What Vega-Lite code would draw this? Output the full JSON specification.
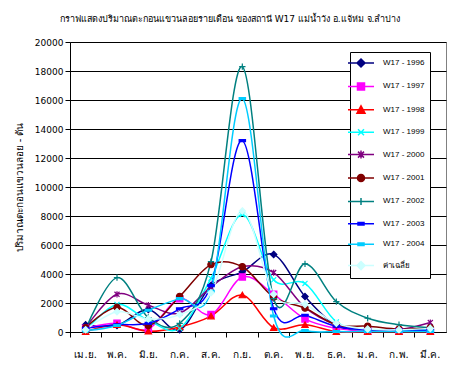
{
  "$schema": "https://vega.github.io/schema/vega-lite/v6.json",
  "width": 376,
  "height": 290,
  "autosize": "none",
  "padding": {"left": 70, "top": 42, "right": 6, "bottom": 43},
  "background": "white",
  "title": {
    "text": "กราฟแสดงปริมาณตะกอนแขวนลอยรายเดือน ของสถานี  W17 แม่น้ำวัง อ.แจ้ห่ม จ.ลำปาง",
    "fontSize": 9,
    "fontWeight": "normal",
    "font": "DejaVu Sans",
    "anchor": "middle",
    "frame": "bounds",
    "offset": 14,
    "color": "black"
  },
  "config": {
    "view": {"stroke": "#808080", "strokeWidth": 1},
    "font": "DejaVu Sans"
  },
  "data": {
    "values": [
      {"month": "เม.ย.", "series": "W17 - 1996", "value": 500},
      {"month": "พ.ค.", "series": "W17 - 1996", "value": 450},
      {"month": "มิ.ย.", "series": "W17 - 1996", "value": 1550},
      {"month": "ก.ค.", "series": "W17 - 1996", "value": 150},
      {"month": "ส.ค.", "series": "W17 - 1996", "value": 3200},
      {"month": "ก.ย.", "series": "W17 - 1996", "value": 4150},
      {"month": "ต.ค.", "series": "W17 - 1996", "value": 5350},
      {"month": "พ.ย.", "series": "W17 - 1996", "value": 2450},
      {"month": "ธ.ค.", "series": "W17 - 1996", "value": 450},
      {"month": "ม.ค.", "series": "W17 - 1996", "value": 100},
      {"month": "ก.พ.", "series": "W17 - 1996", "value": 80},
      {"month": "มี.ค.", "series": "W17 - 1996", "value": 150},

      {"month": "เม.ย.", "series": "W17 - 1997", "value": 250},
      {"month": "พ.ค.", "series": "W17 - 1997", "value": 600},
      {"month": "มิ.ย.", "series": "W17 - 1997", "value": 200},
      {"month": "ก.ค.", "series": "W17 - 1997", "value": 2300},
      {"month": "ส.ค.", "series": "W17 - 1997", "value": 1200},
      {"month": "ก.ย.", "series": "W17 - 1997", "value": 3800},
      {"month": "ต.ค.", "series": "W17 - 1997", "value": 2600},
      {"month": "พ.ย.", "series": "W17 - 1997", "value": 900},
      {"month": "ธ.ค.", "series": "W17 - 1997", "value": 250},
      {"month": "ม.ค.", "series": "W17 - 1997", "value": 60},
      {"month": "ก.พ.", "series": "W17 - 1997", "value": 60},
      {"month": "มี.ค.", "series": "W17 - 1997", "value": 80},

      {"month": "เม.ย.", "series": "W17 - 1998", "value": 20},
      {"month": "พ.ค.", "series": "W17 - 1998", "value": 500},
      {"month": "มิ.ย.", "series": "W17 - 1998", "value": 50},
      {"month": "ก.ค.", "series": "W17 - 1998", "value": 350},
      {"month": "ส.ค.", "series": "W17 - 1998", "value": 1100},
      {"month": "ก.ย.", "series": "W17 - 1998", "value": 2550},
      {"month": "ต.ค.", "series": "W17 - 1998", "value": 300},
      {"month": "พ.ย.", "series": "W17 - 1998", "value": 500},
      {"month": "ธ.ค.", "series": "W17 - 1998", "value": 20},
      {"month": "ม.ค.", "series": "W17 - 1998", "value": 20},
      {"month": "ก.พ.", "series": "W17 - 1998", "value": 20},
      {"month": "มี.ค.", "series": "W17 - 1998", "value": 20},

      {"month": "เม.ย.", "series": "W17 - 1999", "value": 100},
      {"month": "พ.ค.", "series": "W17 - 1999", "value": 1900},
      {"month": "มิ.ย.", "series": "W17 - 1999", "value": 800},
      {"month": "ก.ค.", "series": "W17 - 1999", "value": 250},
      {"month": "ส.ค.", "series": "W17 - 1999", "value": 3700},
      {"month": "ก.ย.", "series": "W17 - 1999", "value": 8100},
      {"month": "ต.ค.", "series": "W17 - 1999", "value": 3600},
      {"month": "พ.ย.", "series": "W17 - 1999", "value": 3350},
      {"month": "ธ.ค.", "series": "W17 - 1999", "value": 700},
      {"month": "ม.ค.", "series": "W17 - 1999", "value": 100},
      {"month": "ก.พ.", "series": "W17 - 1999", "value": 100},
      {"month": "มี.ค.", "series": "W17 - 1999", "value": 200},

      {"month": "เม.ย.", "series": "W17 - 2000", "value": 300},
      {"month": "พ.ค.", "series": "W17 - 2000", "value": 2600},
      {"month": "มิ.ย.", "series": "W17 - 2000", "value": 1850},
      {"month": "ก.ค.", "series": "W17 - 2000", "value": 1300},
      {"month": "ส.ค.", "series": "W17 - 2000", "value": 3100},
      {"month": "ก.ย.", "series": "W17 - 2000", "value": 4500},
      {"month": "ต.ค.", "series": "W17 - 2000", "value": 4100},
      {"month": "พ.ย.", "series": "W17 - 2000", "value": 1700},
      {"month": "ธ.ค.", "series": "W17 - 2000", "value": 500},
      {"month": "ม.ค.", "series": "W17 - 2000", "value": 150},
      {"month": "ก.พ.", "series": "W17 - 2000", "value": 150},
      {"month": "มี.ค.", "series": "W17 - 2000", "value": 650},

      {"month": "เม.ย.", "series": "W17 - 2001", "value": 300},
      {"month": "พ.ค.", "series": "W17 - 2001", "value": 1700},
      {"month": "มิ.ย.", "series": "W17 - 2001", "value": 450},
      {"month": "ก.ค.", "series": "W17 - 2001", "value": 2450},
      {"month": "ส.ค.", "series": "W17 - 2001", "value": 4650},
      {"month": "ก.ย.", "series": "W17 - 2001", "value": 4500},
      {"month": "ต.ค.", "series": "W17 - 2001", "value": 2400},
      {"month": "พ.ย.", "series": "W17 - 2001", "value": 1650},
      {"month": "ธ.ค.", "series": "W17 - 2001", "value": 500},
      {"month": "ม.ค.", "series": "W17 - 2001", "value": 400},
      {"month": "ก.พ.", "series": "W17 - 2001", "value": 200},
      {"month": "มี.ค.", "series": "W17 - 2001", "value": 300},

      {"month": "เม.ย.", "series": "W17 - 2002", "value": 200},
      {"month": "พ.ค.", "series": "W17 - 2002", "value": 3750},
      {"month": "มิ.ย.", "series": "W17 - 2002", "value": 1000},
      {"month": "ก.ค.", "series": "W17 - 2002", "value": 600},
      {"month": "ส.ค.", "series": "W17 - 2002", "value": 4850},
      {"month": "ก.ย.", "series": "W17 - 2002", "value": 18300},
      {"month": "ต.ค.", "series": "W17 - 2002", "value": 2300},
      {"month": "พ.ย.", "series": "W17 - 2002", "value": 4700},
      {"month": "ธ.ค.", "series": "W17 - 2002", "value": 2100},
      {"month": "ม.ค.", "series": "W17 - 2002", "value": 950},
      {"month": "ก.พ.", "series": "W17 - 2002", "value": 500},
      {"month": "มี.ค.", "series": "W17 - 2002", "value": 300},

      {"month": "เม.ย.", "series": "W17 - 2003", "value": 250},
      {"month": "พ.ค.", "series": "W17 - 2003", "value": 500},
      {"month": "มิ.ย.", "series": "W17 - 2003", "value": 600},
      {"month": "ก.ค.", "series": "W17 - 2003", "value": 1600},
      {"month": "ส.ค.", "series": "W17 - 2003", "value": 3200},
      {"month": "ก.ย.", "series": "W17 - 2003", "value": 13200},
      {"month": "ต.ค.", "series": "W17 - 2003", "value": 1600},
      {"month": "พ.ย.", "series": "W17 - 2003", "value": 1150},
      {"month": "ธ.ค.", "series": "W17 - 2003", "value": 400},
      {"month": "ม.ค.", "series": "W17 - 2003", "value": 150},
      {"month": "ก.พ.", "series": "W17 - 2003", "value": 150},
      {"month": "มี.ค.", "series": "W17 - 2003", "value": 100},

      {"month": "เม.ย.", "series": "W17 - 2004", "value": 100},
      {"month": "พ.ค.", "series": "W17 - 2004", "value": 450},
      {"month": "มิ.ย.", "series": "W17 - 2004", "value": 1500},
      {"month": "ก.ค.", "series": "W17 - 2004", "value": 2300},
      {"month": "ส.ค.", "series": "W17 - 2004", "value": 2800},
      {"month": "ก.ย.", "series": "W17 - 2004", "value": 16100},
      {"month": "ต.ค.", "series": "W17 - 2004", "value": 1100},
      {"month": "พ.ย.", "series": "W17 - 2004", "value": 100},
      {"month": "ธ.ค.", "series": "W17 - 2004", "value": 30},
      {"month": "ม.ค.", "series": "W17 - 2004", "value": 30},
      {"month": "ก.พ.", "series": "W17 - 2004", "value": 30},
      {"month": "มี.ค.", "series": "W17 - 2004", "value": 30},

      {"month": "เม.ย.", "series": "ค่าเฉลี่ย", "value": 150},
      {"month": "พ.ค.", "series": "ค่าเฉลี่ย", "value": 1400},
      {"month": "มิ.ย.", "series": "ค่าเฉลี่ย", "value": 900},
      {"month": "ก.ค.", "series": "ค่าเฉลี่ย", "value": 1200},
      {"month": "ส.ค.", "series": "ค่าเฉลี่ย", "value": 2700},
      {"month": "ก.ย.", "series": "ค่าเฉลี่ย", "value": 8350},
      {"month": "ต.ค.", "series": "ค่าเฉลี่ย", "value": 2600},
      {"month": "พ.ย.", "series": "ค่าเฉลี่ย", "value": 1900},
      {"month": "ธ.ค.", "series": "ค่าเฉลี่ย", "value": 600},
      {"month": "ม.ค.", "series": "ค่าเฉลี่ย", "value": 200},
      {"month": "ก.พ.", "series": "ค่าเฉลี่ย", "value": 150},
      {"month": "มี.ค.", "series": "ค่าเฉลี่ย", "value": 250}
    ]
  },
  "encoding": {
    "x": {
      "field": "month",
      "type": "ordinal",
      "sort": ["เม.ย.", "พ.ค.", "มิ.ย.", "ก.ค.", "ส.ค.", "ก.ย.", "ต.ค.", "พ.ย.", "ธ.ค.", "ม.ค.", "ก.พ.", "มี.ค."],
      "scale": {"type": "band", "paddingInner": 0, "paddingOuter": 0},
      "axis": {
        "title": null,
        "bandPosition": 0,
        "labelAngle": 0,
        "labelFontSize": 10,
        "labelColor": "black",
        "labelPadding": 12,
        "tickColor": "black",
        "tickSize": 5,
        "domainColor": "black",
        "grid": false
      }
    },
    "y": {
      "field": "value",
      "type": "quantitative",
      "scale": {"domain": [0, 20000], "nice": false},
      "axis": {
        "title": "ปริมาณตะกอนแขวนลอย - ตัน",
        "titleFontSize": 10,
        "titleFontWeight": "normal",
        "titleColor": "black",
        "titlePadding": 10,
        "values": [0, 2000, 4000, 6000, 8000, 10000, 12000, 14000, 16000, 18000, 20000],
        "format": "d",
        "labelFontSize": 9,
        "labelColor": "black",
        "labelPadding": 2,
        "tickColor": "black",
        "tickSize": 5,
        "domainColor": "black",
        "grid": true,
        "gridColor": "black",
        "gridOpacity": 1,
        "gridWidth": 1
      }
    }
  },
  "resolve": {
    "scale": {"shape": "independent", "fill": "independent", "stroke": "independent"},
    "legend": {"shape": "independent", "fill": "independent", "stroke": "independent"}
  },
  "layer": [
    {
      "mark": {"type": "line", "interpolate": "cardinal", "tension": 0, "strokeWidth": 1.5},
      "encoding": {
        "stroke": {
          "field": "series",
          "type": "nominal",
          "scale": {
            "domain": ["W17 - 1996", "W17 - 1997", "W17 - 1998", "W17 - 1999", "W17 - 2000", "W17 - 2001", "W17 - 2002", "W17 - 2003", "W17 - 2004", "ค่าเฉลี่ย"],
            "range": ["#000080", "#FF00FF", "#FF0000", "#00FFFF", "#800080", "#800000", "#008080", "#0000FF", "#00CCFF", "#CCFFFF"]
          },
          "legend": null
        }
      }
    },
    {
      "mark": {"type": "point", "filled": true, "opacity": 1, "size": 40, "strokeWidth": 1.2},
      "encoding": {
        "fill": {
          "field": "series",
          "type": "nominal",
          "scale": {
            "domain": ["W17 - 1996", "W17 - 1997", "W17 - 1998", "W17 - 1999", "W17 - 2000", "W17 - 2001", "W17 - 2002", "W17 - 2003", "W17 - 2004", "ค่าเฉลี่ย"],
            "range": ["#000080", "#FF00FF", "#FF0000", "#00FFFF", "#800080", "#800000", "#008080", "#0000FF", "#00CCFF", "#CCFFFF"]
          },
          "legend": null
        },
        "stroke": {
          "field": "series",
          "type": "nominal",
          "scale": {
            "domain": ["W17 - 1996", "W17 - 1997", "W17 - 1998", "W17 - 1999", "W17 - 2000", "W17 - 2001", "W17 - 2002", "W17 - 2003", "W17 - 2004", "ค่าเฉลี่ย"],
            "range": ["#000080", "#FF00FF", "#FF0000", "#00FFFF", "#800080", "#800000", "#008080", "#0000FF", "#00CCFF", "#CCFFFF"]
          },
          "legend": null
        },
        "shape": {
          "field": "series",
          "type": "nominal",
          "legend": null,
          "scale": {
            "domain": ["W17 - 1996", "W17 - 1997", "W17 - 1998", "W17 - 1999", "W17 - 2000", "W17 - 2001", "W17 - 2002", "W17 - 2003", "W17 - 2004", "ค่าเฉลี่ย"],
            "range": ["M0,-1L1,0L0,1L-1,0Z", "square", "triangle-up", "M-0.8,-0.8L0.8,0.8M-0.8,0.8L0.8,-0.8", "M-0.8,-0.8L0.8,0.8M-0.8,0.8L0.8,-0.8M0,-1L0,1", "circle", "M-1,0L1,0M0,-1L0,1", "M-1,-0.3L1,-0.3L1,0.3L-1,0.3Z", "M-1,-0.3L1,-0.3L1,0.3L-1,0.3Z", "M0,-1L1,0L0,1L-1,0Z"]
          }
        }
      }
    },
    {
      "transform": [{"filter": "false"}],
      "mark": {"type": "point", "filled": true, "opacity": 1, "size": 100, "strokeWidth": 1.5},
      "encoding": {
        "fill": {
          "field": "series",
          "type": "nominal",
          "scale": {
            "domain": ["W17 - 1996", "W17 - 1997", "W17 - 1998", "W17 - 1999", "W17 - 2000", "W17 - 2001", "W17 - 2002", "W17 - 2003", "W17 - 2004", "ค่าเฉลี่ย"],
            "range": ["#000080", "#FF00FF", "#FF0000", "#00FFFF", "#800080", "#800000", "#008080", "#0000FF", "#00CCFF", "#CCFFFF"]
          },
          "legend": {
            "title": null,
            "orient": "none",
            "legendX": 280,
            "legendY": 10,
            "direction": "vertical",
            "padding": 5,
            "strokeColor": "black",
            "fillColor": "white",
            "labelFont": "Liberation Sans",
            "labelFontSize": 8,
            "labelColor": "black",
            "labelOffset": 16,
            "rowPadding": 9.4,
            "symbolSize": 100,
            "symbolStrokeWidth": 1.5,
            "symbolOpacity": 1
          }
        },
        "stroke": {
          "field": "series",
          "type": "nominal",
          "scale": {
            "domain": ["W17 - 1996", "W17 - 1997", "W17 - 1998", "W17 - 1999", "W17 - 2000", "W17 - 2001", "W17 - 2002", "W17 - 2003", "W17 - 2004", "ค่าเฉลี่ย"],
            "range": ["#000080", "#FF00FF", "#FF0000", "#00FFFF", "#800080", "#800000", "#008080", "#0000FF", "#00CCFF", "#CCFFFF"]
          }
        },
        "shape": {
          "field": "series",
          "type": "nominal",
          "scale": {
            "domain": ["W17 - 1996", "W17 - 1997", "W17 - 1998", "W17 - 1999", "W17 - 2000", "W17 - 2001", "W17 - 2002", "W17 - 2003", "W17 - 2004", "ค่าเฉลี่ย"],
            "range": ["M-2.6,0L2.6,0M0,-0.8L0.8,0L0,0.8L-0.8,0Z", "M-2.6,0L2.6,0M-0.7,-0.7L0.7,-0.7L0.7,0.7L-0.7,0.7Z", "M-2.6,0L2.6,0M0,-0.8L0.8,0.7L-0.8,0.7Z", "M-2.6,0L2.6,0M-0.6,-0.6L0.6,0.6M-0.6,0.6L0.6,-0.6", "M-2.6,0L2.6,0M-0.6,-0.6L0.6,0.6M-0.6,0.6L0.6,-0.6M0,-0.8L0,0.8", "M-2.6,0L2.6,0M-0.7,0A0.7,0.7,0,1,0,0.7,0A0.7,0.7,0,1,0,-0.7,0Z", "M-2.6,0L2.6,0M0,-0.7L0,0.7", "M-2.6,0L2.6,0M-0.6,-0.25L0.6,-0.25L0.6,0.25L-0.6,0.25Z", "M-2.6,0L2.6,0M-0.6,-0.25L0.6,-0.25L0.6,0.25L-0.6,0.25Z", "M-2.6,0L2.6,0M0,-0.8L0.8,0L0,0.8L-0.8,0Z"]
          }
        }
      }
    }
  ]
}
